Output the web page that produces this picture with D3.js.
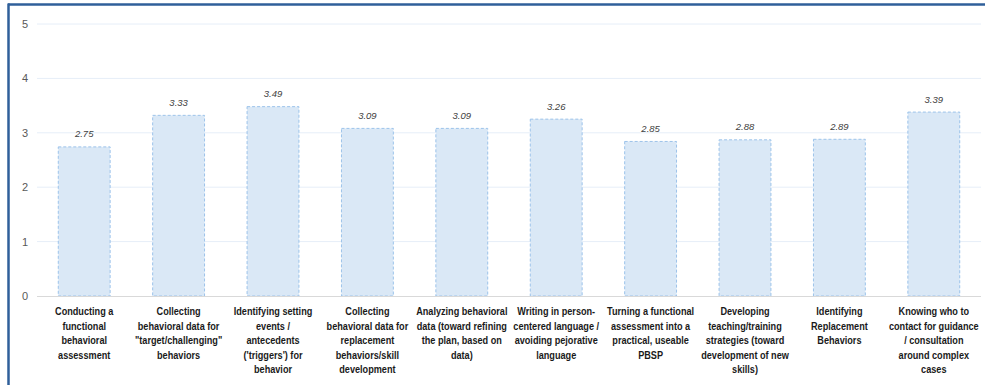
<!DOCTYPE html>
<html lang="en">
<head>
<meta charset="UTF-8">
<title>Skill ratings</title>
<script src="https://d3js.org/d3.v7.min.js"></script>
<style>
  body { margin: 0; background: #fff; }
  svg { display: block; }
</style>
</head>
<body>
<script>
// categories (already broken into lines as in the source chart)
const categories = [
  ["Conducting a", "functional", "behavioral", "assessment"],
  ["Collecting", "behavioral data for", "\"target/challenging\"", "behaviors"],
  ["Identifying setting", "events /", "antecedents", "('triggers') for", "behavior"],
  ["Collecting", "behavioral data for", "replacement", "behaviors/skill", "development"],
  ["Analyzing behavioral", "data (toward refining", "the plan, based on", "data)"],
  ["Writing in person-", "centered language /", "avoiding pejorative", "language"],
  ["Turning a functional", "assessment into a", "practical, useable", "PBSP"],
  ["Developing", "teaching/training", "strategies (toward", "development of new", "skills)"],
  ["Identifying", "Replacement", "Behaviors"],
  ["Knowing who to", "contact for guidance", "/ consultation", "around complex", "cases"]
];
const values = [2.75, 3.33, 3.49, 3.09, 3.09, 3.26, 2.85, 2.88, 2.89, 3.39];
const yTicks = [0, 1, 2, 3, 4, 5];

const width = 985, height = 385;
const x0 = 37, x1 = 981, yTop = 24, yBottom = 296;

const svg = d3.select("body").append("svg")
  .attr("width", width)
  .attr("height", height);

const x = d3.scaleBand()
  .domain(d3.range(values.length))
  .range([x0, x1])
  .paddingInner(0.44)
  .paddingOuter(0.22);

const y = d3.scaleLinear().domain([0, 5]).range([yBottom, yTop]);

// gridlines
svg.append("g")
  .selectAll("line")
  .data(yTicks.filter(d => d > 0))
  .join("line")
  .attr("x1", x0).attr("x2", x1)
  .attr("y1", d => y(d)).attr("y2", d => y(d))
  .attr("stroke", "#e6eef8")
  .attr("stroke-width", 1);

// y axis labels
const yAxis = d3.axisLeft(y).tickValues(yTicks).tickFormat(d3.format("d")).tickSize(0).tickPadding(0);
svg.append("g")
  .attr("transform", "translate(28,0)")
  .call(yAxis)
  .call(g => g.select(".domain").remove())
  .call(g => g.selectAll("text")
    .attr("fill", "#595959")
    .attr("font-family", "Liberation Sans, Arial, sans-serif")
    .attr("font-size", 11)
    .attr("text-anchor", "middle")
    .attr("dx", -3));

// bars
svg.append("g")
  .selectAll("rect")
  .data(values)
  .join("rect")
  .attr("x", (d, i) => x(i) + 0.5)
  .attr("y", d => y(d) + 0.5)
  .attr("width", x.bandwidth() - 1)
  .attr("height", d => y(0) - y(d) - 0.5)
  .attr("fill", "#dae8f6")
  .attr("stroke", "#9cc3ea")
  .attr("stroke-width", 1)
  .attr("stroke-dasharray", "3,2");

// baseline
svg.append("line")
  .attr("x1", x0).attr("x2", x1)
  .attr("y1", y(0) + 0.5).attr("y2", y(0) + 0.5)
  .attr("stroke", "#d9d9d9")
  .attr("stroke-width", 1);

// value labels
svg.append("g")
  .selectAll("text")
  .data(values)
  .join("text")
  .attr("x", (d, i) => x(i) + x.bandwidth() / 2)
  .attr("y", d => y(d) - 9)
  .attr("text-anchor", "middle")
  .attr("font-family", "Liberation Sans, Arial, sans-serif")
  .attr("font-style", "italic")
  .attr("font-size", 9.5)
  .attr("fill", "#404040")
  .text(d => d.toFixed(2));

// category labels (narrowed horizontally, the source uses a condensed face)
const cat = svg.append("g")
  .selectAll("text")
  .data(categories)
  .join("text")
  .attr("transform", (d, i) => `translate(${x(i) + x.bandwidth() / 2},315) scale(0.87,1)`)
  .attr("text-anchor", "middle")
  .attr("font-family", "Liberation Sans, Arial, sans-serif")
  .attr("font-weight", "bold")
  .attr("font-size", 10.5)
  .attr("fill", "#1a1a1a");

cat.selectAll("tspan")
  .data(d => d)
  .join("tspan")
  .attr("x", 0)
  .attr("dy", (d, i) => i === 0 ? 0 : 14.6)
  .text(d => d);

// frame (top and left edges visible)
svg.append("line")
  .attr("x1", 8).attr("x2", width)
  .attr("y1", 4.5).attr("y2", 4.5)
  .attr("stroke", "#2f5f9a").attr("stroke-width", 2.5);
svg.append("line")
  .attr("x1", 8.5).attr("x2", 8.5)
  .attr("y1", 3.5).attr("y2", height)
  .attr("stroke", "#2f5f9a").attr("stroke-width", 2.5);
</script>
</body>
</html>
